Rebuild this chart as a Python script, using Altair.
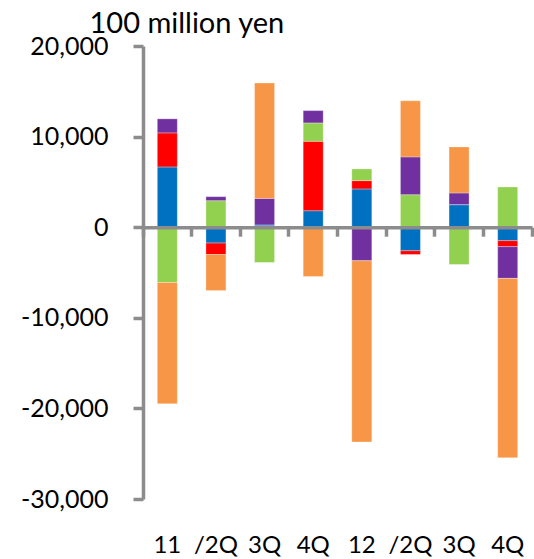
import altair as alt
import pandas as pd

# Quarterly periods and the labels printed under each bar
quarters = ["2011-1Q", "2011-2Q", "2011-3Q", "2011-4Q",
            "2012-1Q", "2012-2Q", "2012-3Q", "2012-4Q"]
tick_labels = ["11", "/2Q", "3Q", "4Q", "12", "/2Q", "3Q", "4Q"]

# Component series (100 million yen), stacked in this order
series_names = ["Component A", "Component B", "Component C", "Component D", "Component E"]
series_colors = ["#0070C0", "#FF0000", "#92D050", "#7030A0", "#F79646"]

comp_a = [6650, -1750, 250, 1820, 4220, -2600, 2490, -1490]
comp_b = [3760, -1260, 0, 7660, 920, -410, 0, -660]
comp_c = [-6100, 2930, -3890, 2030, 1290, 3590, -4110, 4440]
comp_d = [1550, 440, 2930, 1360, -3700, 4170, 1290, -3500]
comp_e = [-13400, -3980, 12740, -5440, -20000, 6190, 5080, -19800]

y_ticks = [-30000, -20000, -10000, 0, 10000, 20000]

series_values = [comp_a, comp_b, comp_c, comp_d, comp_e]
rows = []
for k, (name, vals) in enumerate(zip(series_names, series_values)):
    for q, v in zip(quarters, vals):
        rows.append({"quarter": q, "series": name, "value": v, "order": k})
df = pd.DataFrame(rows)

# map period keys to their printed labels
label_expr = "''"
for q, lab in reversed(list(zip(quarters, tick_labels))):
    label_expr = f"datum.value == '{q}' ? '{lab}' : ({label_expr})"

FONT = "Lato"
GRAY = "#8c8c8c"

x_scale = alt.Scale(domain=quarters, paddingInner=0, paddingOuter=0)
y_scale = alt.Scale(domain=[-30000, 20000], nice=False, zero=True)
color_scale = alt.Scale(domain=series_names, range=series_colors)

y_axis = alt.Axis(
    values=y_ticks, grid=False,
    labelExpr="replace(format(datum.value, ',.0f'), '\u2212', '-')",
    labelFont=FONT, labelFontSize=25, labelColor="black", labelPadding=25,
    tickSize=10, tickWidth=3.5, tickColor=GRAY,
    domainColor=GRAY, domainWidth=3.5,
    title="100 million yen", titleAngle=0, titleAlign="left",
    titleBaseline="alphabetic", titleX=-54, titleY=-14,
    titleFont=FONT, titleFontSize=29, titleFontWeight="normal",
    titleColor="black",
)
y_enc = alt.Y("value:Q", stack="zero", scale=y_scale, axis=y_axis)

bars = alt.Chart(df).mark_bar(size=20, stroke="white", strokeWidth=0.6, strokeOpacity=0.5).encode(
    x=alt.X(
        "quarter:N", sort=quarters, scale=x_scale,
        axis=alt.Axis(
            orient="bottom", title=None, domain=False, ticks=False,
            labelAngle=0, labelFont=FONT, labelFontSize=24, labelColor="black",
            labelPadding=34, labelExpr=label_expr,
        ),
    ),
    y=y_enc,
    color=alt.Color("series:N", scale=color_scale, legend=None),
    order=alt.Order("order:Q"),
)

# zero line with category-boundary ticks
zero_axis = alt.Chart(df).mark_bar(opacity=0).encode(
    x=alt.X(
        "quarter:N", sort=quarters, scale=x_scale,
        axis=alt.Axis(
            orient="bottom", title=None, labels=False, offset=-271.8,
            domainColor=GRAY, domainWidth=3.5,
            tickColor=GRAY, tickWidth=3.5, tickSize=9,
            bandPosition=1, tickExtra=True, zindex=1,
        ),
    ),
    y=y_enc,
    order=alt.Order("order:Q"),
)

chart = alt.layer(bars, zero_axis).resolve_axis(x="independent").properties(
    width=389,
    height=453,
    autosize=alt.AutoSizeParams(type="none"),
    padding={"left": 143, "top": 46, "right": 2, "bottom": 60},
).configure_view(stroke=None)

chart.save("out.html", embed_options={"renderer": "svg", "actions": False})
